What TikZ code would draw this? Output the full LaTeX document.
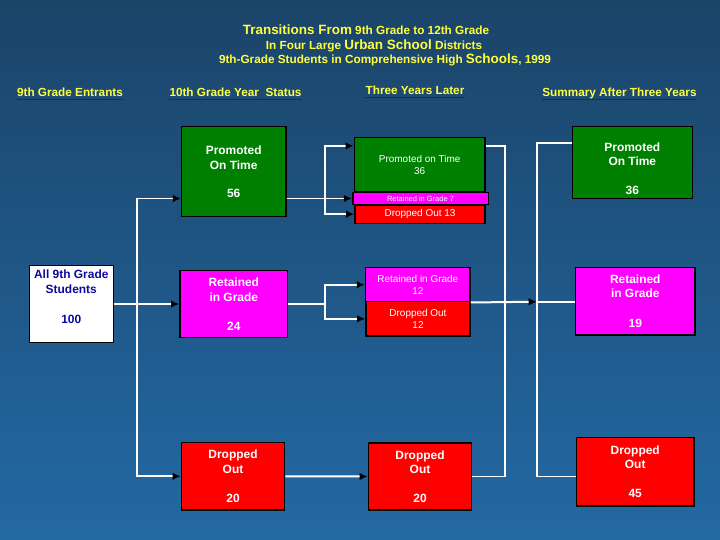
\documentclass[tikz,border=0pt]{standalone}
\usepackage{fontspec}
\setmainfont{Liberation Sans}
\usetikzlibrary{arrows.meta, positioning, calc}
\definecolor{tsBgTop}{HTML}{1B4468}
\definecolor{tsBgBot}{HTML}{2369A4}
\definecolor{tsYellow}{HTML}{FFFF40}
\definecolor{tsLine}{HTML}{1020B0}
\definecolor{tsGreen}{HTML}{008000}
\definecolor{tsMag}{HTML}{FF00FF}
\definecolor{tsRed}{HTML}{FF0000}
\definecolor{tsNavy}{HTML}{0A0A9C}
\tikzset{
  box/.style={
    draw=black, line width=1.6pt, inner sep=0pt, align=center,
    text=white, font=\bfseries\fontsize{12}{14.5}\selectfont
  },
  gbox/.style={box, fill=tsGreen},
  mbox/.style={box, fill=tsMag},
  rbox/.style={box, fill=tsRed},
  lite/.style={font=\fontsize{10}{12}\selectfont},
  wire/.style={draw=white, line width=2pt},
  flow/.style={wire, -{Latex[length=8bp, width=7.5bp, color=black]}},
  ttl/.style={text=tsYellow, font=\bfseries\fontsize{11.8}{13}\selectfont,
              inner sep=0pt, anchor=base},
  uline/.style={draw=tsLine, line width=2pt},
}
\newcommand{\tsbig}{\fontsize{13.5}{15}\selectfont}

\begin{document}
\begin{tikzpicture}[x=1bp, y=-1bp]
  \fill[top color=tsBgTop, bottom color=tsBgBot] (0,0) rectangle (720,540);
  \useasboundingbox (0,0) rectangle (720,540);

  % titles and column heads
  \node[ttl] (t1) at (366,35) {{\tsbig Transitions From} 9th Grade to 12th Grade};
  \node[ttl] (t2) at (374,50) {In Four Large {\tsbig Urban School} Districts};
  \node[ttl] (t3) at (385,64) {9th-Grade Students in Comprehensive High {\tsbig Schools}, 1999};
  \node[ttl] (h1) at (70,97) {9th Grade Entrants};
  \node[ttl] (h2) at (235.5,97) {10th Grade Year\ \ Status};
  \node[ttl] (h3) at (415,95) {Three Years Later};
  \node[ttl] (h4) at (619.5,97) {Summary After Three Years};
  \foreach \h in {h1,h2,h3,h4}
    \draw[uline] ([yshift=-2.5bp]\h.base west) -- ([yshift=-2.5bp]\h.base east);

  \node[box, fill=white, text=tsNavy, minimum width=84bp, minimum height=76.6bp] (all9)
    at (71.3,304) {All 9th Grade\\Students\\[15.5bp]100\\[0.5bp]\rule{0pt}{0pt}};

  \node[gbox, minimum width=104bp, minimum height=90bp] (p10) at (233.7,171.7)
    {Promoted\\On Time\\[13.5bp]56};
  \node[mbox, minimum width=107.7bp, minimum height=66.6bp] (r10) at (233.8,304)
    {Retained\\in Grade\\[14.5bp]24};
  \node[rbox, minimum width=103bp, minimum height=67.3bp] (d10) at (233,476.3)
    {Dropped\\Out\\[14.5bp]20};

  \node[gbox, lite, minimum width=130.7bp, minimum height=54bp] (p3) at (419.7,164.7)
    {Promoted on Time\\36};
  \node[rbox, lite, minimum width=130bp, minimum height=18.3bp] (d13) at (420,214.2)
    {Dropped Out 13};
  \node[mbox, font=\fontsize{7.5}{8}\selectfont, minimum width=135.6bp,
        minimum height=11.6bp] (r7) at (420.5,198.5) {Retained in Grade 7};
  \node[mbox, lite, minimum width=104.3bp, minimum height=34bp] (r12) at (417.8,284.7)
    {Retained in Grade\\12};
  \node[rbox, lite, minimum width=104bp, minimum height=34.3bp] (dr12) at (418,318.8)
    {Dropped Out\\12};
  \node[rbox, minimum width=103bp, minimum height=67bp] (d3) at (420,476.5)
    {Dropped\\Out\\[14.5bp]20};

  \node[gbox, minimum width=120bp, minimum height=71.6bp] (sp) at (632.3,162.5)
    {\rule{0pt}{0pt}\\[6.2bp]Promoted\\On Time\\[14.5bp]36};
  \node[mbox, minimum width=119.3bp, minimum height=67.3bp] (sr) at (635.3,301.3)
    {Retained\\in Grade\\[15.5bp]19};
  \node[rbox, minimum width=117.5bp, minimum height=68.3bp] (sd) at (635.2,471.8)
    {Dropped\\Out\\[14.5bp]45};

  % junctions
  \coordinate (j1) at (137,304);
  \coordinate (j2) at (325,198.5);
  \coordinate (j3) at (325,304);
  \coordinate (j4) at (505,301.7);
  \coordinate (j5) at (536.7,301.7);

  \draw[wire] (all9.east) -- (j1);
  \draw[flow] (j1) |- (p10.west |- r7);
  \draw[flow] (j1) -- (r10.west);
  \draw[flow] (j1) |- (d10.west);
  \draw[flow] (p10.east |- r7) -- (r7.west);
  \draw[flow] (j2) |- ([yshift=-9bp]p3.north west);
  \draw[flow] (j2) |- (d13.west);
  \draw[wire] (r10.east) -- (j3);
  \draw[flow] (j3) |- (r12.west);
  \draw[flow] (j3) |- (dr12.west);
  \draw[flow] (d10.east) -- (d3.west);
  \draw[wire] ([yshift=-9bp]p3.north east) -| (j4) |- (d3.east);
  \draw[flow] (r12.south east) -- (j5);
  \draw[wire] (j5) -- (sr.west |- j5);
  \draw[wire] ([yshift=-17.5bp]sp.north west) -| (j5) |- (sd.west |- d3);
\end{tikzpicture}
\end{document}
